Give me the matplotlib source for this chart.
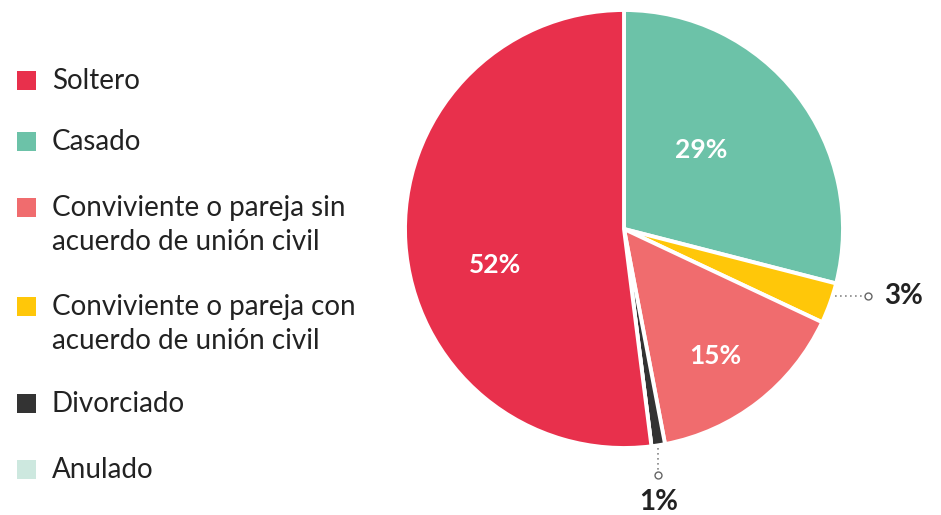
import matplotlib.pyplot as plt
import numpy as np
from matplotlib.patches import Rectangle

plt.rcParams['font.family'] = ['Lato', 'DejaVu Sans']

# data, clockwise from the top
labels = ['Casado', 'Conviviente o pareja con\nacuerdo de unión civil',
          'Conviviente o pareja sin\nacuerdo de unión civil', 'Divorciado', 'Anulado', 'Soltero']
values = [29, 3, 15, 1, 0, 52]
colors = ['#6CC2A8', '#FFC709', '#F06C6E', '#333333', '#CDE8DF', '#E8304C']

# legend order
legend_order = ['Soltero', 'Casado', 'Conviviente o pareja sin\nacuerdo de unión civil',
                'Conviviente o pareja con\nacuerdo de unión civil', 'Divorciado', 'Anulado']

W, H = 941, 515
fig = plt.figure(figsize=(W / 100, H / 100), dpi=100)

# pie axes, center (624, 229), radius ~219 px
cx, cy, R = 624, 229, 220
ax = fig.add_axes([(cx - R) / W, (H - cy - R) / H, 2 * R / W, 2 * R / H])
r = 219 / 220
wedges, _ = ax.pie(values, colors=colors, startangle=90, counterclock=False, radius=r,
                   wedgeprops=dict(edgecolor='white', linewidth=2.8))
ax.set_xlim(-1, 1)
ax.set_ylim(-1, 1)
ax.axis('off')

# inside labels (angle shift, radius) per slice
inside = {0: (8, 0.5), 2: (-2, 0.71), 5: (12, 0.61)}
for i, (dang, rad) in inside.items():
    w = wedges[i]
    mid = np.deg2rad((w.theta1 + w.theta2) / 2 + dang)
    ax.text(rad * np.cos(mid), rad * np.sin(mid), f'{values[i]}%', color='white',
            fontsize=19, fontweight='bold', ha='center', va='center')

# outside labels with dotted leaders
ink = '#222222'
w = wedges[1]
mid = np.deg2rad((w.theta1 + w.theta2) / 2 + 2)
x0, y0 = r * np.cos(mid), r * np.sin(mid)
x1 = x0 + 35 / 220
ax.plot([x0 + 0.01, x1], [y0, y0], ls=(0, (1, 2)), color='#888888', lw=1.2, clip_on=False)
ax.plot([x1], [y0], 'o', ms=5, mfc='white', mec='#666666', mew=1, clip_on=False)
ax.text(x1 + 17 / 220, y0, f'{values[1]}%', color=ink, fontsize=20, fontweight='bold',
        ha='left', va='center', clip_on=False)

w = wedges[3]
mid = np.deg2rad((w.theta1 + w.theta2) / 2)
x0, y0 = r * np.cos(mid), r * np.sin(mid)
y1 = y0 - 30 / 220
ax.plot([x0, x0], [y0 - 0.01, y1], ls=(0, (1, 2)), color='#888888', lw=1.2, clip_on=False)
ax.plot([x0], [y1], 'o', ms=5, mfc='white', mec='#666666', mew=1, clip_on=False)
ax.text(x0, y1 - 27 / 220, f'{values[3]}%', color=ink, fontsize=20, fontweight='bold',
        ha='center', va='center', clip_on=False)

# legend drawn by hand
lg = fig.add_axes([0, 0, 1, 1])
lg.set_xlim(0, W)
lg.set_ylim(H, 0)
lg.axis('off')
color_of = dict(zip(labels, colors))
ys = [80, 141, 207, 306, 403, 469]
for name, y in zip(legend_order, ys):
    lg.add_patch(Rectangle((17, y - 9.5), 19, 19, color=color_of[name], lw=0))
    lg.text(52, y - 12, name, color=ink, fontsize=20, ha='left', va='top',
            linespacing=1.38)

fig.savefig('out.png', dpi=100)
